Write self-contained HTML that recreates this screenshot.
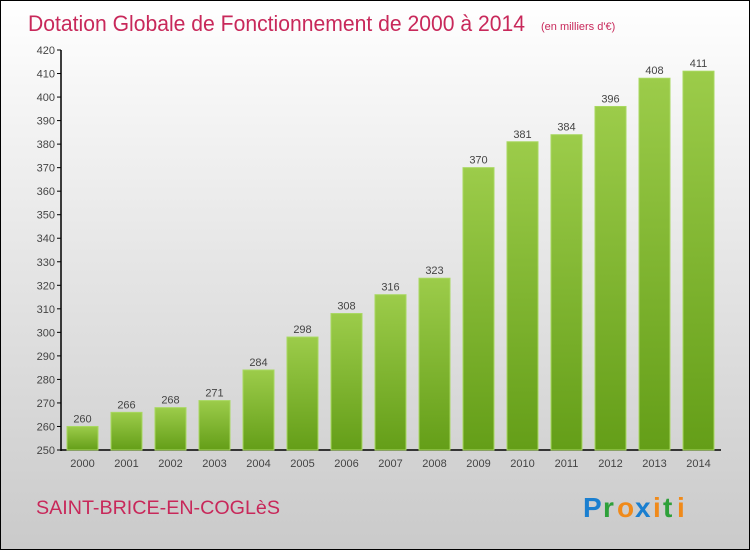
<!DOCTYPE html>
<html><head><meta charset="utf-8"><style>
body{margin:0}
#c{position:relative;width:748px;height:548px;border:1px solid #000;background:linear-gradient(#fff,#f4f4f4 20%,#cacaca);font-family:"Liberation Sans",sans-serif;overflow:hidden}
</style></head><body>
<div id="c">
<svg width="748" height="548">
<defs><linearGradient id="g" x1="0" y1="0" x2="0" y2="1"><stop offset="0" stop-color="#9ccc4a"/><stop offset="1" stop-color="#649e18"/></linearGradient></defs>
<text x="27" y="30" font-size="22" fill="#c8285a" textLength="497" lengthAdjust="spacingAndGlyphs">Dotation Globale de Fonctionnement de 2000 à 2014</text>
<text x="540" y="29" font-size="11" fill="#c8285a">(en milliers d'€)</text>
<g id="ax"></g><g id="bars"></g>
<text x="35" y="513" font-size="19" fill="#c8285a" textLength="244" lengthAdjust="spacingAndGlyphs">SAINT-BRICE-EN-COGLèS</text>
<g font-size="28" font-weight="bold"><text x="582" y="516" fill="#1a7fd0">P</text><text x="602" y="516" fill="#2ea03a">r</text><text x="616" y="516" fill="#f08a1a">o</text><text x="634" y="516" fill="#1a7fd0">x</text><text x="652" y="516" fill="#f08a1a">i</text><text x="662" y="516" fill="#2ea03a">t</text><text x="676" y="516" fill="#f08a1a">i</text></g>
</svg></div>
<script>
const years=["2000","2001","2002","2003","2004","2005","2006","2007","2008","2009","2010","2011","2012","2013","2014"];
const values=[260,266,268,271,284,298,308,316,323,370,381,384,396,408,411];
const yTicks=[250,260,270,280,290,300,310,320,330,340,350,360,370,380,390,400,410,420];
const NS="http://www.w3.org/2000/svg";
const y=v=>449-(v-250)*400/170;
const x=i=>66+i*44;
function mk(t,a,p,txt){const e=document.createElementNS(NS,t);for(const k in a)e.setAttribute(k,a[k]);if(txt!==undefined)e.textContent=txt;p.appendChild(e);return e;}
const ax=document.getElementById('ax'),bars=document.getElementById('bars');
let l=mk('line',{x1:60,y1:49,x2:60,y2:450,stroke:'#000','stroke-width':1.5},ax);


l=mk('line',{x1:60,y1:449,x2:720,y2:449,stroke:'#000','stroke-width':1.5},ax);


yTicks.forEach(v=>{
 mk('line',{x1:56,y1:y(v),x2:60,y2:y(v),stroke:'#000'},ax);
 const t=mk('text',{x:54,y:y(v)+4,'text-anchor':'end','font-size':11,fill:'#444'},ax,v);
 
 
});
years.forEach((yr,i)=>{
 const r=mk('rect',{x:x(i),y:y(values[i]),width:31,height:449-y(values[i]),fill:'url(#g)',stroke:'#a8d860','stroke-width':1},bars);
 
 
 const v=mk('text',{x:x(i)+15.5,y:y(values[i])-4,'text-anchor':'middle','font-size':11,fill:'#444'},bars,values[i]);
 
 
 const t=mk('text',{x:x(i)+15.5,y:466,'text-anchor':'middle','font-size':11,fill:'#444'},ax,yr);
 
 
});
</script>
</body></html>
